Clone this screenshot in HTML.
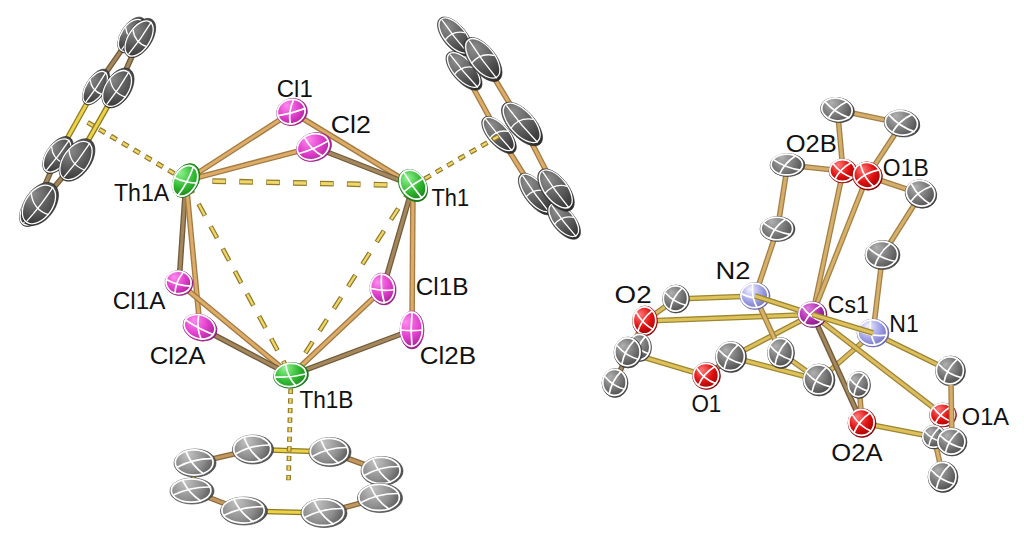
<!DOCTYPE html>
<html><head><meta charset="utf-8"><style>
html,body{margin:0;padding:0;background:#fff;}
svg{display:block;}
text{font-family:"Liberation Sans",sans-serif;font-size:24.3px;fill:#111;}
</style></head><body>
<svg width="1024" height="536" viewBox="0 0 1024 536">
<defs><radialGradient id="g_L1" gradientUnits="userSpaceOnUse" cx="1.87" cy="-5.39" fx="3.74" fy="-10.77" r="29.00"><stop offset="0" stop-color="#8e8e8e"/><stop offset="0.5" stop-color="#575757"/><stop offset="1" stop-color="#1e1e1e"/></radialGradient><radialGradient id="g_L2" gradientUnits="userSpaceOnUse" cx="2.05" cy="-5.92" fx="4.11" fy="-11.85" r="31.90"><stop offset="0" stop-color="#8e8e8e"/><stop offset="0.5" stop-color="#575757"/><stop offset="1" stop-color="#1e1e1e"/></radialGradient><radialGradient id="g_L3" gradientUnits="userSpaceOnUse" cx="1.96" cy="-5.35" fx="3.92" fy="-10.71" r="29.00"><stop offset="0" stop-color="#8e8e8e"/><stop offset="0.5" stop-color="#575757"/><stop offset="1" stop-color="#1e1e1e"/></radialGradient><radialGradient id="g_L4" gradientUnits="userSpaceOnUse" cx="2.16" cy="-5.89" fx="4.32" fy="-11.78" r="31.90"><stop offset="0" stop-color="#8e8e8e"/><stop offset="0.5" stop-color="#575757"/><stop offset="1" stop-color="#1e1e1e"/></radialGradient><radialGradient id="g_L5" gradientUnits="userSpaceOnUse" cx="1.76" cy="-5.72" fx="3.53" fy="-11.44" r="30.45"><stop offset="0" stop-color="#8e8e8e"/><stop offset="0.5" stop-color="#575757"/><stop offset="1" stop-color="#1e1e1e"/></radialGradient><radialGradient id="g_L6" gradientUnits="userSpaceOnUse" cx="2.01" cy="-6.54" fx="4.03" fy="-13.08" r="34.80"><stop offset="0" stop-color="#8e8e8e"/><stop offset="0.5" stop-color="#575757"/><stop offset="1" stop-color="#1e1e1e"/></radialGradient><radialGradient id="g_L7b" gradientUnits="userSpaceOnUse" cx="1.76" cy="-5.72" fx="3.53" fy="-11.44" r="30.45"><stop offset="0" stop-color="#8e8e8e"/><stop offset="0.5" stop-color="#575757"/><stop offset="1" stop-color="#1e1e1e"/></radialGradient><radialGradient id="g_L7" gradientUnits="userSpaceOnUse" cx="2.01" cy="-6.54" fx="4.03" fy="-13.08" r="34.80"><stop offset="0" stop-color="#8e8e8e"/><stop offset="0.5" stop-color="#575757"/><stop offset="1" stop-color="#1e1e1e"/></radialGradient><radialGradient id="g_R1" gradientUnits="userSpaceOnUse" cx="-6.69" cy="-0.25" fx="-13.39" fy="-0.50" r="34.07"><stop offset="0" stop-color="#8e8e8e"/><stop offset="0.5" stop-color="#575757"/><stop offset="1" stop-color="#1e1e1e"/></radialGradient><radialGradient id="g_R3" gradientUnits="userSpaceOnUse" cx="-6.82" cy="-0.49" fx="-13.65" fy="-0.98" r="34.80"><stop offset="0" stop-color="#8e8e8e"/><stop offset="0.5" stop-color="#575757"/><stop offset="1" stop-color="#1e1e1e"/></radialGradient><radialGradient id="g_R2" gradientUnits="userSpaceOnUse" cx="-7.41" cy="-0.02" fx="-14.82" fy="-0.03" r="37.70"><stop offset="0" stop-color="#8e8e8e"/><stop offset="0.5" stop-color="#575757"/><stop offset="1" stop-color="#1e1e1e"/></radialGradient><radialGradient id="g_R5" gradientUnits="userSpaceOnUse" cx="-6.54" cy="-0.47" fx="-13.08" fy="-0.94" r="33.35"><stop offset="0" stop-color="#8e8e8e"/><stop offset="0.5" stop-color="#575757"/><stop offset="1" stop-color="#1e1e1e"/></radialGradient><radialGradient id="g_R4" gradientUnits="userSpaceOnUse" cx="-7.68" cy="-0.55" fx="-15.35" fy="-1.11" r="39.15"><stop offset="0" stop-color="#8e8e8e"/><stop offset="0.5" stop-color="#575757"/><stop offset="1" stop-color="#1e1e1e"/></radialGradient><radialGradient id="g_R6" gradientUnits="userSpaceOnUse" cx="-7.13" cy="-0.02" fx="-14.25" fy="-0.03" r="36.25"><stop offset="0" stop-color="#8e8e8e"/><stop offset="0.5" stop-color="#575757"/><stop offset="1" stop-color="#1e1e1e"/></radialGradient><radialGradient id="g_R8" gradientUnits="userSpaceOnUse" cx="-6.27" cy="-0.23" fx="-12.53" fy="-0.47" r="31.90"><stop offset="0" stop-color="#8e8e8e"/><stop offset="0.5" stop-color="#575757"/><stop offset="1" stop-color="#1e1e1e"/></radialGradient><radialGradient id="g_R7" gradientUnits="userSpaceOnUse" cx="-7.13" cy="-0.02" fx="-14.25" fy="-0.03" r="36.25"><stop offset="0" stop-color="#8e8e8e"/><stop offset="0.5" stop-color="#575757"/><stop offset="1" stop-color="#1e1e1e"/></radialGradient><radialGradient id="g_Th1A" gradientUnits="userSpaceOnUse" cx="2.10" cy="-4.68" fx="4.19" fy="-9.37" r="26.10"><stop offset="0" stop-color="#90f490"/><stop offset="0.5" stop-color="#30b830"/><stop offset="1" stop-color="#0f640f"/></radialGradient><radialGradient id="g_Th1" gradientUnits="userSpaceOnUse" cx="-4.98" cy="0.25" fx="-9.96" fy="0.50" r="25.38"><stop offset="0" stop-color="#90f490"/><stop offset="0.5" stop-color="#30b830"/><stop offset="1" stop-color="#0f640f"/></radialGradient><radialGradient id="g_Th1B" gradientUnits="userSpaceOnUse" cx="-2.63" cy="-4.24" fx="-5.27" fy="-8.47" r="25.38"><stop offset="0" stop-color="#90f490"/><stop offset="0.5" stop-color="#30b830"/><stop offset="1" stop-color="#0f640f"/></radialGradient><radialGradient id="g_Cl1" gradientUnits="userSpaceOnUse" cx="-1.72" cy="-4.07" fx="-3.43" fy="-8.14" r="22.47"><stop offset="0" stop-color="#ff8cf0"/><stop offset="0.5" stop-color="#e03ccc"/><stop offset="1" stop-color="#861878"/></radialGradient><radialGradient id="g_Cl2" gradientUnits="userSpaceOnUse" cx="-1.57" cy="-4.88" fx="-3.15" fy="-9.77" r="26.10"><stop offset="0" stop-color="#ff8cf0"/><stop offset="0.5" stop-color="#e03ccc"/><stop offset="1" stop-color="#861878"/></radialGradient><radialGradient id="g_Cl1A" gradientUnits="userSpaceOnUse" cx="-2.96" cy="-2.68" fx="-5.92" fy="-5.35" r="20.30"><stop offset="0" stop-color="#ff8cf0"/><stop offset="0.5" stop-color="#e03ccc"/><stop offset="1" stop-color="#861878"/></radialGradient><radialGradient id="g_Cl2A" gradientUnits="userSpaceOnUse" cx="-4.22" cy="-2.65" fx="-8.45" fy="-5.31" r="25.38"><stop offset="0" stop-color="#ff8cf0"/><stop offset="0.5" stop-color="#e03ccc"/><stop offset="1" stop-color="#861878"/></radialGradient><radialGradient id="g_Cl1B" gradientUnits="userSpaceOnUse" cx="-2.13" cy="-4.03" fx="-4.26" fy="-8.06" r="23.20"><stop offset="0" stop-color="#ff8cf0"/><stop offset="0.5" stop-color="#e03ccc"/><stop offset="1" stop-color="#861878"/></radialGradient><radialGradient id="g_Cl2B" gradientUnits="userSpaceOnUse" cx="-3.32" cy="-4.28" fx="-6.65" fy="-8.55" r="27.55"><stop offset="0" stop-color="#ff8cf0"/><stop offset="0.5" stop-color="#e03ccc"/><stop offset="1" stop-color="#861878"/></radialGradient><radialGradient id="g_B1" gradientUnits="userSpaceOnUse" cx="-3.59" cy="-4.61" fx="-7.17" fy="-9.22" r="29.72"><stop offset="0" stop-color="#c4c4c4"/><stop offset="0.5" stop-color="#8e8e8e"/><stop offset="1" stop-color="#343434"/></radialGradient><radialGradient id="g_B2" gradientUnits="userSpaceOnUse" cx="-3.67" cy="-4.73" fx="-7.35" fy="-9.45" r="30.45"><stop offset="0" stop-color="#c4c4c4"/><stop offset="0.5" stop-color="#8e8e8e"/><stop offset="1" stop-color="#343434"/></radialGradient><radialGradient id="g_B3" gradientUnits="userSpaceOnUse" cx="-3.67" cy="-4.73" fx="-7.35" fy="-9.45" r="30.45"><stop offset="0" stop-color="#c4c4c4"/><stop offset="0.5" stop-color="#8e8e8e"/><stop offset="1" stop-color="#343434"/></radialGradient><radialGradient id="g_B5" gradientUnits="userSpaceOnUse" cx="-3.67" cy="-4.73" fx="-7.35" fy="-9.45" r="30.45"><stop offset="0" stop-color="#c4c4c4"/><stop offset="0.5" stop-color="#8e8e8e"/><stop offset="1" stop-color="#343434"/></radialGradient><radialGradient id="g_B4" gradientUnits="userSpaceOnUse" cx="-3.85" cy="-4.95" fx="-7.70" fy="-9.90" r="31.90"><stop offset="0" stop-color="#c4c4c4"/><stop offset="0.5" stop-color="#8e8e8e"/><stop offset="1" stop-color="#343434"/></radialGradient><radialGradient id="g_B6" gradientUnits="userSpaceOnUse" cx="-3.94" cy="-5.06" fx="-7.87" fy="-10.12" r="32.62"><stop offset="0" stop-color="#c4c4c4"/><stop offset="0.5" stop-color="#8e8e8e"/><stop offset="1" stop-color="#343434"/></radialGradient><radialGradient id="g_B7" gradientUnits="userSpaceOnUse" cx="-4.11" cy="-5.29" fx="-8.22" fy="-10.58" r="34.07"><stop offset="0" stop-color="#c4c4c4"/><stop offset="0.5" stop-color="#8e8e8e"/><stop offset="1" stop-color="#343434"/></radialGradient><radialGradient id="g_B8" gradientUnits="userSpaceOnUse" cx="-4.02" cy="-5.17" fx="-8.05" fy="-10.35" r="33.35"><stop offset="0" stop-color="#c4c4c4"/><stop offset="0.5" stop-color="#8e8e8e"/><stop offset="1" stop-color="#343434"/></radialGradient><radialGradient id="g_Ctl" gradientUnits="userSpaceOnUse" cx="-3.59" cy="-3.25" fx="-7.19" fy="-6.50" r="24.65"><stop offset="0" stop-color="#b0b0b0"/><stop offset="0.5" stop-color="#767676"/><stop offset="1" stop-color="#363636"/></radialGradient><radialGradient id="g_Ctr" gradientUnits="userSpaceOnUse" cx="-3.81" cy="-3.44" fx="-7.61" fy="-6.88" r="26.10"><stop offset="0" stop-color="#b0b0b0"/><stop offset="0.5" stop-color="#767676"/><stop offset="1" stop-color="#363636"/></radialGradient><radialGradient id="g_Co2b" gradientUnits="userSpaceOnUse" cx="-3.06" cy="-3.94" fx="-6.12" fy="-7.88" r="25.38"><stop offset="0" stop-color="#b0b0b0"/><stop offset="0.5" stop-color="#767676"/><stop offset="1" stop-color="#363636"/></radialGradient><radialGradient id="g_O2B" gradientUnits="userSpaceOnUse" cx="-2.45" cy="-3.15" fx="-4.90" fy="-6.30" r="20.30"><stop offset="0" stop-color="#ff7a7a"/><stop offset="0.5" stop-color="#e01010"/><stop offset="1" stop-color="#7a0000"/></radialGradient><radialGradient id="g_O1B" gradientUnits="userSpaceOnUse" cx="-3.62" cy="-2.27" fx="-7.24" fy="-4.55" r="21.75"><stop offset="0" stop-color="#ff7a7a"/><stop offset="0.5" stop-color="#e01010"/><stop offset="1" stop-color="#7a0000"/></radialGradient><radialGradient id="g_Co1b" gradientUnits="userSpaceOnUse" cx="-3.86" cy="-2.43" fx="-7.72" fy="-4.85" r="23.20"><stop offset="0" stop-color="#b0b0b0"/><stop offset="0.5" stop-color="#767676"/><stop offset="1" stop-color="#363636"/></radialGradient><radialGradient id="g_Cn2" gradientUnits="userSpaceOnUse" cx="-3.06" cy="-3.94" fx="-6.12" fy="-7.88" r="25.38"><stop offset="0" stop-color="#b0b0b0"/><stop offset="0.5" stop-color="#767676"/><stop offset="1" stop-color="#363636"/></radialGradient><radialGradient id="g_Cn1" gradientUnits="userSpaceOnUse" cx="-3.06" cy="-3.94" fx="-6.12" fy="-7.88" r="25.38"><stop offset="0" stop-color="#b0b0b0"/><stop offset="0.5" stop-color="#767676"/><stop offset="1" stop-color="#363636"/></radialGradient><radialGradient id="g_N2" gradientUnits="userSpaceOnUse" cx="-2.62" cy="-3.38" fx="-5.25" fy="-6.75" r="21.75"><stop offset="0" stop-color="#f2f2ff"/><stop offset="0.5" stop-color="#a0a0e6"/><stop offset="1" stop-color="#5858a8"/></radialGradient><radialGradient id="g_Cs1" gradientUnits="userSpaceOnUse" cx="-2.54" cy="-3.26" fx="-5.07" fy="-6.53" r="21.02"><stop offset="0" stop-color="#e080e0"/><stop offset="0.5" stop-color="#b02cb0"/><stop offset="1" stop-color="#5a105a"/></radialGradient><radialGradient id="g_N1" gradientUnits="userSpaceOnUse" cx="-2.80" cy="-3.60" fx="-5.60" fy="-7.20" r="23.20"><stop offset="0" stop-color="#f2f2ff"/><stop offset="0.5" stop-color="#a0a0e6"/><stop offset="1" stop-color="#5858a8"/></radialGradient><radialGradient id="g_Co2" gradientUnits="userSpaceOnUse" cx="-2.45" cy="-3.15" fx="-4.90" fy="-6.30" r="20.30"><stop offset="0" stop-color="#b0b0b0"/><stop offset="0.5" stop-color="#767676"/><stop offset="1" stop-color="#363636"/></radialGradient><radialGradient id="g_O2" gradientUnits="userSpaceOnUse" cx="-2.62" cy="-3.38" fx="-5.25" fy="-6.75" r="21.75"><stop offset="0" stop-color="#ff7a7a"/><stop offset="0.5" stop-color="#e01010"/><stop offset="1" stop-color="#7a0000"/></radialGradient><radialGradient id="g_Cbk" gradientUnits="userSpaceOnUse" cx="-2.45" cy="-3.15" fx="-4.90" fy="-6.30" r="20.30"><stop offset="0" stop-color="#b0b0b0"/><stop offset="0.5" stop-color="#767676"/><stop offset="1" stop-color="#363636"/></radialGradient><radialGradient id="g_Cfr" gradientUnits="userSpaceOnUse" cx="-2.71" cy="-3.49" fx="-5.42" fy="-6.98" r="22.47"><stop offset="0" stop-color="#b0b0b0"/><stop offset="0.5" stop-color="#767676"/><stop offset="1" stop-color="#363636"/></radialGradient><radialGradient id="g_Cbl" gradientUnits="userSpaceOnUse" cx="-2.54" cy="-3.26" fx="-5.07" fy="-6.53" r="21.02"><stop offset="0" stop-color="#b0b0b0"/><stop offset="0.5" stop-color="#767676"/><stop offset="1" stop-color="#363636"/></radialGradient><radialGradient id="g_O1" gradientUnits="userSpaceOnUse" cx="-2.45" cy="-3.15" fx="-4.90" fy="-6.30" r="20.30"><stop offset="0" stop-color="#ff7a7a"/><stop offset="0.5" stop-color="#e01010"/><stop offset="1" stop-color="#7a0000"/></radialGradient><radialGradient id="g_Cc" gradientUnits="userSpaceOnUse" cx="-2.71" cy="-3.49" fx="-5.42" fy="-6.98" r="22.47"><stop offset="0" stop-color="#b0b0b0"/><stop offset="0.5" stop-color="#767676"/><stop offset="1" stop-color="#363636"/></radialGradient><radialGradient id="g_Crc" gradientUnits="userSpaceOnUse" cx="-2.71" cy="-3.49" fx="-5.42" fy="-6.98" r="22.47"><stop offset="0" stop-color="#b0b0b0"/><stop offset="0.5" stop-color="#767676"/><stop offset="1" stop-color="#363636"/></radialGradient><radialGradient id="g_C819" gradientUnits="userSpaceOnUse" cx="-2.80" cy="-3.60" fx="-5.60" fy="-7.20" r="23.20"><stop offset="0" stop-color="#b0b0b0"/><stop offset="0.5" stop-color="#767676"/><stop offset="1" stop-color="#363636"/></radialGradient><radialGradient id="g_C857" gradientUnits="userSpaceOnUse" cx="-2.36" cy="-3.04" fx="-4.72" fy="-6.08" r="19.57"><stop offset="0" stop-color="#b0b0b0"/><stop offset="0.5" stop-color="#767676"/><stop offset="1" stop-color="#363636"/></radialGradient><radialGradient id="g_C951" gradientUnits="userSpaceOnUse" cx="-2.62" cy="-3.38" fx="-5.25" fy="-6.75" r="21.75"><stop offset="0" stop-color="#b0b0b0"/><stop offset="0.5" stop-color="#767676"/><stop offset="1" stop-color="#363636"/></radialGradient><radialGradient id="g_O2A" gradientUnits="userSpaceOnUse" cx="-2.54" cy="-3.26" fx="-5.07" fy="-6.53" r="21.02"><stop offset="0" stop-color="#ff7a7a"/><stop offset="0.5" stop-color="#e01010"/><stop offset="1" stop-color="#7a0000"/></radialGradient><radialGradient id="g_O1A" gradientUnits="userSpaceOnUse" cx="-2.36" cy="-3.04" fx="-4.72" fy="-6.08" r="19.57"><stop offset="0" stop-color="#ff7a7a"/><stop offset="0.5" stop-color="#e01010"/><stop offset="1" stop-color="#7a0000"/></radialGradient><radialGradient id="g_Cbk2" gradientUnits="userSpaceOnUse" cx="-2.10" cy="-2.70" fx="-4.20" fy="-5.40" r="17.40"><stop offset="0" stop-color="#b0b0b0"/><stop offset="0.5" stop-color="#767676"/><stop offset="1" stop-color="#363636"/></radialGradient><radialGradient id="g_Cfr2" gradientUnits="userSpaceOnUse" cx="-2.62" cy="-3.38" fx="-5.25" fy="-6.75" r="21.75"><stop offset="0" stop-color="#b0b0b0"/><stop offset="0.5" stop-color="#767676"/><stop offset="1" stop-color="#363636"/></radialGradient><radialGradient id="g_Cbt" gradientUnits="userSpaceOnUse" cx="-2.71" cy="-3.49" fx="-5.42" fy="-6.98" r="22.47"><stop offset="0" stop-color="#b0b0b0"/><stop offset="0.5" stop-color="#767676"/><stop offset="1" stop-color="#363636"/></radialGradient></defs>
<rect width="1024" height="536" fill="#fff"/>
<line x1="186" y1="180.5" x2="413" y2="185.5" stroke="#94792a" stroke-width="5.6" stroke-dasharray="13.7 13.20" stroke-dashoffset="0.5"/><line x1="186" y1="180.5" x2="413" y2="185.5" stroke="#eed86a" stroke-width="3.10" stroke-dasharray="12.30 14.60" stroke-dashoffset="-0.20"/><line x1="186" y1="180.5" x2="291" y2="375.4" stroke="#94792a" stroke-width="4.8" stroke-dasharray="13.5 12.00" stroke-dashoffset="24.5"/><line x1="186" y1="180.5" x2="291" y2="375.4" stroke="#eed86a" stroke-width="2.30" stroke-dasharray="12.10 13.40" stroke-dashoffset="23.80"/><line x1="413" y1="185.5" x2="291" y2="375.4" stroke="#94792a" stroke-width="4.8" stroke-dasharray="13.5 12.90" stroke-dashoffset="25.5"/><line x1="413" y1="185.5" x2="291" y2="375.4" stroke="#eed86a" stroke-width="2.30" stroke-dasharray="12.10 14.30" stroke-dashoffset="24.80"/><line x1="132" y1="35" x2="96" y2="87" stroke="#735b3a" stroke-width="5.6" stroke-linecap="butt"/><line x1="132" y1="35" x2="96" y2="87" stroke="#a3885e" stroke-width="3.00" stroke-linecap="butt"/><line x1="140" y1="38" x2="118" y2="88" stroke="#735b3a" stroke-width="5.6" stroke-linecap="butt"/><line x1="140" y1="38" x2="118" y2="88" stroke="#a3885e" stroke-width="3.00" stroke-linecap="butt"/><line x1="96" y1="87" x2="58" y2="155" stroke="#8c7a20" stroke-width="5.6" stroke-linecap="butt"/><line x1="96" y1="87" x2="58" y2="155" stroke="#ecd24a" stroke-width="3.00" stroke-linecap="butt"/><line x1="118" y1="88" x2="77" y2="160" stroke="#8c7a20" stroke-width="5.6" stroke-linecap="butt"/><line x1="118" y1="88" x2="77" y2="160" stroke="#ecd24a" stroke-width="3.00" stroke-linecap="butt"/><line x1="58" y1="155" x2="35" y2="208" stroke="#735b3a" stroke-width="5.6" stroke-linecap="butt"/><line x1="58" y1="155" x2="35" y2="208" stroke="#a3885e" stroke-width="3.00" stroke-linecap="butt"/><line x1="77" y1="160" x2="40" y2="204" stroke="#735b3a" stroke-width="5.6" stroke-linecap="butt"/><line x1="77" y1="160" x2="40" y2="204" stroke="#a3885e" stroke-width="3.00" stroke-linecap="butt"/><line x1="464" y1="71" x2="499" y2="135" stroke="#a27a42" stroke-width="5.6" stroke-linecap="butt"/><line x1="464" y1="71" x2="499" y2="135" stroke="#dcac68" stroke-width="3.00" stroke-linecap="butt"/><line x1="483" y1="59.5" x2="522" y2="124" stroke="#a27a42" stroke-width="5.6" stroke-linecap="butt"/><line x1="483" y1="59.5" x2="522" y2="124" stroke="#dcac68" stroke-width="3.00" stroke-linecap="butt"/><line x1="499" y1="135" x2="536" y2="194" stroke="#a27a42" stroke-width="5.6" stroke-linecap="butt"/><line x1="499" y1="135" x2="536" y2="194" stroke="#dcac68" stroke-width="3.00" stroke-linecap="butt"/><line x1="522" y1="124" x2="556" y2="190" stroke="#a27a42" stroke-width="5.6" stroke-linecap="butt"/><line x1="522" y1="124" x2="556" y2="190" stroke="#dcac68" stroke-width="3.00" stroke-linecap="butt"/><line x1="186" y1="180.5" x2="292" y2="112" stroke="#a27a42" stroke-width="5.6" stroke-linecap="butt"/><line x1="186" y1="180.5" x2="292" y2="112" stroke="#dcac68" stroke-width="3.00" stroke-linecap="butt"/><line x1="186" y1="180.5" x2="314" y2="147" stroke="#a27a42" stroke-width="5.6" stroke-linecap="butt"/><line x1="186" y1="180.5" x2="314" y2="147" stroke="#dcac68" stroke-width="3.00" stroke-linecap="butt"/><line x1="292" y1="112" x2="413" y2="185.5" stroke="#a27a42" stroke-width="5.6" stroke-linecap="butt"/><line x1="292" y1="112" x2="413" y2="185.5" stroke="#dcac68" stroke-width="3.00" stroke-linecap="butt"/><line x1="314" y1="147" x2="413" y2="185.5" stroke="#735b3a" stroke-width="5.6" stroke-linecap="butt"/><line x1="314" y1="147" x2="413" y2="185.5" stroke="#a3885e" stroke-width="3.00" stroke-linecap="butt"/><line x1="186" y1="180.5" x2="179" y2="283" stroke="#735b3a" stroke-width="5.6" stroke-linecap="butt"/><line x1="186" y1="180.5" x2="179" y2="283" stroke="#a3885e" stroke-width="3.00" stroke-linecap="butt"/><line x1="186" y1="180.5" x2="200" y2="327.5" stroke="#a27a42" stroke-width="5.6" stroke-linecap="butt"/><line x1="186" y1="180.5" x2="200" y2="327.5" stroke="#dcac68" stroke-width="3.00" stroke-linecap="butt"/><line x1="179" y1="283" x2="291" y2="375.4" stroke="#a27a42" stroke-width="5.6" stroke-linecap="butt"/><line x1="179" y1="283" x2="291" y2="375.4" stroke="#dcac68" stroke-width="3.00" stroke-linecap="butt"/><line x1="200" y1="327.5" x2="291" y2="375.4" stroke="#735b3a" stroke-width="5.6" stroke-linecap="butt"/><line x1="200" y1="327.5" x2="291" y2="375.4" stroke="#a3885e" stroke-width="3.00" stroke-linecap="butt"/><line x1="413" y1="185.5" x2="383" y2="289" stroke="#735b3a" stroke-width="5.6" stroke-linecap="butt"/><line x1="413" y1="185.5" x2="383" y2="289" stroke="#a3885e" stroke-width="3.00" stroke-linecap="butt"/><line x1="413" y1="185.5" x2="412" y2="330" stroke="#a27a42" stroke-width="5.6" stroke-linecap="butt"/><line x1="413" y1="185.5" x2="412" y2="330" stroke="#dcac68" stroke-width="3.00" stroke-linecap="butt"/><line x1="383" y1="289" x2="291" y2="375.4" stroke="#a27a42" stroke-width="5.6" stroke-linecap="butt"/><line x1="383" y1="289" x2="291" y2="375.4" stroke="#dcac68" stroke-width="3.00" stroke-linecap="butt"/><line x1="412" y1="330" x2="291" y2="375.4" stroke="#735b3a" stroke-width="5.6" stroke-linecap="butt"/><line x1="412" y1="330" x2="291" y2="375.4" stroke="#a3885e" stroke-width="3.00" stroke-linecap="butt"/><line x1="253" y1="449.5" x2="330" y2="452" stroke="#8c7a20" stroke-width="5.6" stroke-linecap="butt"/><line x1="253" y1="449.5" x2="330" y2="452" stroke="#ecd24a" stroke-width="3.00" stroke-linecap="butt"/><line x1="244" y1="511" x2="324" y2="513" stroke="#8c7a20" stroke-width="5.6" stroke-linecap="butt"/><line x1="244" y1="511" x2="324" y2="513" stroke="#ecd24a" stroke-width="3.00" stroke-linecap="butt"/><line x1="253" y1="449.5" x2="195" y2="463" stroke="#8a6a3a" stroke-width="5.6" stroke-linecap="butt"/><line x1="253" y1="449.5" x2="195" y2="463" stroke="#c09860" stroke-width="3.00" stroke-linecap="butt"/><line x1="330" y1="452" x2="382" y2="471" stroke="#8a6a3a" stroke-width="5.6" stroke-linecap="butt"/><line x1="330" y1="452" x2="382" y2="471" stroke="#c09860" stroke-width="3.00" stroke-linecap="butt"/><line x1="192" y1="491" x2="244" y2="511" stroke="#8a6a3a" stroke-width="5.6" stroke-linecap="butt"/><line x1="192" y1="491" x2="244" y2="511" stroke="#c09860" stroke-width="3.00" stroke-linecap="butt"/><line x1="380" y1="498" x2="324" y2="513" stroke="#8a6a3a" stroke-width="5.6" stroke-linecap="butt"/><line x1="380" y1="498" x2="324" y2="513" stroke="#c09860" stroke-width="3.00" stroke-linecap="butt"/><line x1="195" y1="463" x2="192" y2="491" stroke="#8c7a20" stroke-width="5.6" stroke-linecap="butt"/><line x1="195" y1="463" x2="192" y2="491" stroke="#ecd24a" stroke-width="3.00" stroke-linecap="butt"/><line x1="382" y1="471" x2="380" y2="498" stroke="#8c7a20" stroke-width="5.6" stroke-linecap="butt"/><line x1="382" y1="471" x2="380" y2="498" stroke="#ecd24a" stroke-width="3.00" stroke-linecap="butt"/><line x1="837.5" y1="110" x2="902" y2="123.5" stroke="#a48048" stroke-width="5.6" stroke-linecap="butt"/><line x1="837.5" y1="110" x2="902" y2="123.5" stroke="#d6ae6c" stroke-width="3.00" stroke-linecap="butt"/><line x1="837.5" y1="110" x2="843" y2="171" stroke="#a48048" stroke-width="5.6" stroke-linecap="butt"/><line x1="837.5" y1="110" x2="843" y2="171" stroke="#d6ae6c" stroke-width="3.00" stroke-linecap="butt"/><line x1="902" y1="123.5" x2="867.5" y2="176" stroke="#a48048" stroke-width="5.6" stroke-linecap="butt"/><line x1="902" y1="123.5" x2="867.5" y2="176" stroke="#d6ae6c" stroke-width="3.00" stroke-linecap="butt"/><line x1="787.5" y1="165" x2="843" y2="171" stroke="#a48048" stroke-width="5.6" stroke-linecap="butt"/><line x1="787.5" y1="165" x2="843" y2="171" stroke="#d6ae6c" stroke-width="3.00" stroke-linecap="butt"/><line x1="867.5" y1="176" x2="921" y2="194" stroke="#a48048" stroke-width="5.6" stroke-linecap="butt"/><line x1="867.5" y1="176" x2="921" y2="194" stroke="#d6ae6c" stroke-width="3.00" stroke-linecap="butt"/><line x1="843" y1="171" x2="812.5" y2="314.5" stroke="#a48047" stroke-width="5.6" stroke-linecap="butt"/><line x1="843" y1="171" x2="812.5" y2="314.5" stroke="#d6af6b" stroke-width="3.00" stroke-linecap="butt"/><line x1="867.5" y1="176" x2="812.5" y2="314.5" stroke="#a38145" stroke-width="5.6" stroke-linecap="butt"/><line x1="867.5" y1="176" x2="812.5" y2="314.5" stroke="#d7b16a" stroke-width="3.00" stroke-linecap="butt"/><line x1="787.5" y1="165" x2="777.5" y2="229" stroke="#a48048" stroke-width="5.6" stroke-linecap="butt"/><line x1="787.5" y1="165" x2="777.5" y2="229" stroke="#d6ae6c" stroke-width="3.00" stroke-linecap="butt"/><line x1="777.5" y1="229" x2="755" y2="296" stroke="#a38145" stroke-width="5.6" stroke-linecap="butt"/><line x1="777.5" y1="229" x2="755" y2="296" stroke="#d7b169" stroke-width="3.00" stroke-linecap="butt"/><line x1="921" y1="194" x2="882.5" y2="255" stroke="#a38145" stroke-width="5.6" stroke-linecap="butt"/><line x1="921" y1="194" x2="882.5" y2="255" stroke="#d7b06a" stroke-width="3.00" stroke-linecap="butt"/><line x1="882.5" y1="255" x2="873" y2="333" stroke="#a48047" stroke-width="5.6" stroke-linecap="butt"/><line x1="882.5" y1="255" x2="873" y2="333" stroke="#d6af6b" stroke-width="3.00" stroke-linecap="butt"/><line x1="755" y1="296" x2="676" y2="299" stroke="#9c8630" stroke-width="5.6" stroke-linecap="butt"/><line x1="755" y1="296" x2="676" y2="299" stroke="#dec25a" stroke-width="3.00" stroke-linecap="butt"/><line x1="645" y1="321" x2="812.5" y2="314.5" stroke="#9c8630" stroke-width="5.6" stroke-linecap="butt"/><line x1="645" y1="321" x2="812.5" y2="314.5" stroke="#dec25a" stroke-width="3.00" stroke-linecap="butt"/><line x1="645" y1="321" x2="676" y2="299" stroke="#9e8436" stroke-width="5.6" stroke-linecap="butt"/><line x1="645" y1="321" x2="676" y2="299" stroke="#dcbd5f" stroke-width="3.00" stroke-linecap="butt"/><line x1="645" y1="321" x2="628" y2="352.5" stroke="#a18240" stroke-width="5.6" stroke-linecap="butt"/><line x1="645" y1="321" x2="628" y2="352.5" stroke="#d9b566" stroke-width="3.00" stroke-linecap="butt"/><line x1="628" y1="352.5" x2="615" y2="383" stroke="#735b3a" stroke-width="5.6" stroke-linecap="butt"/><line x1="628" y1="352.5" x2="615" y2="383" stroke="#a3885e" stroke-width="3.00" stroke-linecap="butt"/><line x1="628" y1="352.5" x2="706.5" y2="376" stroke="#9c8631" stroke-width="5.6" stroke-linecap="butt"/><line x1="628" y1="352.5" x2="706.5" y2="376" stroke="#dec15b" stroke-width="3.00" stroke-linecap="butt"/><line x1="706.5" y1="376" x2="731" y2="357" stroke="#735b3a" stroke-width="5.6" stroke-linecap="butt"/><line x1="706.5" y1="376" x2="731" y2="357" stroke="#a3885e" stroke-width="3.00" stroke-linecap="butt"/><line x1="731" y1="357" x2="812.5" y2="314.5" stroke="#9d8534" stroke-width="5.6" stroke-linecap="butt"/><line x1="731" y1="357" x2="812.5" y2="314.5" stroke="#ddbf5d" stroke-width="3.00" stroke-linecap="butt"/><line x1="731" y1="357" x2="819" y2="380" stroke="#9c8631" stroke-width="5.6" stroke-linecap="butt"/><line x1="731" y1="357" x2="819" y2="380" stroke="#dec15b" stroke-width="3.00" stroke-linecap="butt"/><line x1="755" y1="296" x2="781" y2="353" stroke="#a28242" stroke-width="5.6" stroke-linecap="butt"/><line x1="755" y1="296" x2="781" y2="353" stroke="#d8b367" stroke-width="3.00" stroke-linecap="butt"/><line x1="781" y1="353" x2="819" y2="380" stroke="#9e8436" stroke-width="5.6" stroke-linecap="butt"/><line x1="781" y1="353" x2="819" y2="380" stroke="#dcbd5f" stroke-width="3.00" stroke-linecap="butt"/><line x1="873" y1="333" x2="819" y2="380" stroke="#9f8438" stroke-width="5.6" stroke-linecap="butt"/><line x1="873" y1="333" x2="819" y2="380" stroke="#dbbb60" stroke-width="3.00" stroke-linecap="butt"/><line x1="812.5" y1="314.5" x2="862" y2="423" stroke="#735b3a" stroke-width="5.6" stroke-linecap="butt"/><line x1="812.5" y1="314.5" x2="862" y2="423" stroke="#a3885e" stroke-width="3.00" stroke-linecap="butt"/><line x1="812.5" y1="314.5" x2="943" y2="415" stroke="#9e8437" stroke-width="5.6" stroke-linecap="butt"/><line x1="812.5" y1="314.5" x2="943" y2="415" stroke="#dcbc5f" stroke-width="3.00" stroke-linecap="butt"/><line x1="873" y1="333" x2="950.5" y2="371" stroke="#9d8534" stroke-width="5.6" stroke-linecap="butt"/><line x1="873" y1="333" x2="950.5" y2="371" stroke="#ddbf5d" stroke-width="3.00" stroke-linecap="butt"/><line x1="859" y1="385" x2="862" y2="423" stroke="#a48047" stroke-width="5.6" stroke-linecap="butt"/><line x1="859" y1="385" x2="862" y2="423" stroke="#d6ae6c" stroke-width="3.00" stroke-linecap="butt"/><line x1="862" y1="423" x2="934" y2="437" stroke="#9c8631" stroke-width="5.6" stroke-linecap="butt"/><line x1="862" y1="423" x2="934" y2="437" stroke="#dec15a" stroke-width="3.00" stroke-linecap="butt"/><line x1="943" y1="477" x2="934" y2="437" stroke="#a38146" stroke-width="5.6" stroke-linecap="butt"/><line x1="943" y1="477" x2="934" y2="437" stroke="#d7b06a" stroke-width="3.00" stroke-linecap="butt"/><g transform="translate(132,35) rotate(-57)"><ellipse rx="20" ry="11" fill="url(#g_L1)" stroke="#1e1e1e" stroke-width="0.6"/><ellipse cx="-0.80" cy="-0.44" rx="18.00" ry="9.90" fill="none" stroke="#fff" stroke-width="1.3"/><path d="M17.96,0.69 Q-0.05,1.32 -17.96,-0.69" fill="none" stroke="#fff" stroke-width="1.3"/><path d="M-3.13,9.75 Q-6.28,-2.01 3.13,-9.75" fill="none" stroke="#fff" stroke-width="1.3"/></g><g transform="translate(140,38) rotate(-57)"><ellipse rx="22" ry="12" fill="url(#g_L2)" stroke="#1e1e1e" stroke-width="0.6"/><ellipse cx="-0.88" cy="-0.48" rx="19.80" ry="10.80" fill="none" stroke="#fff" stroke-width="1.3"/><path d="M19.75,0.75 Q-0.05,1.44 -19.75,-0.75" fill="none" stroke="#fff" stroke-width="1.3"/><path d="M-3.44,10.64 Q-6.85,-2.21 3.44,-10.64" fill="none" stroke="#fff" stroke-width="1.3"/></g><g transform="translate(96,87) rotate(-58)"><ellipse rx="20" ry="10" fill="url(#g_L3)" stroke="#1e1e1e" stroke-width="0.6"/><ellipse cx="-0.80" cy="-0.40" rx="18.00" ry="9.00" fill="none" stroke="#fff" stroke-width="1.3"/><path d="M17.96,0.63 Q-0.04,1.20 -17.96,-0.63" fill="none" stroke="#fff" stroke-width="1.3"/><path d="M-3.13,8.86 Q-5.66,-2.00 3.13,-8.86" fill="none" stroke="#fff" stroke-width="1.3"/></g><g transform="translate(118,88) rotate(-58)"><ellipse rx="22" ry="13" fill="url(#g_L4)" stroke="#1e1e1e" stroke-width="0.6"/><ellipse cx="-0.88" cy="-0.52" rx="19.80" ry="11.70" fill="none" stroke="#fff" stroke-width="1.3"/><path d="M19.75,0.82 Q-0.06,1.56 -19.75,-0.82" fill="none" stroke="#fff" stroke-width="1.3"/><path d="M-3.44,11.52 Q-7.47,-2.23 3.44,-11.52" fill="none" stroke="#fff" stroke-width="1.3"/></g><g transform="translate(58,155) rotate(-55)"><ellipse rx="21" ry="11.5" fill="url(#g_L5)" stroke="#1e1e1e" stroke-width="0.6"/><ellipse cx="-0.84" cy="-0.46" rx="18.90" ry="10.35" fill="none" stroke="#fff" stroke-width="1.3"/><path d="M18.85,0.72 Q-0.05,1.38 -18.85,-0.72" fill="none" stroke="#fff" stroke-width="1.3"/><path d="M-3.28,10.19 Q-6.57,-2.11 3.28,-10.19" fill="none" stroke="#fff" stroke-width="1.3"/></g><g transform="translate(77,160) rotate(-55)"><ellipse rx="24" ry="14" fill="url(#g_L6)" stroke="#1e1e1e" stroke-width="0.6"/><ellipse cx="-0.96" cy="-0.56" rx="21.60" ry="12.60" fill="none" stroke="#fff" stroke-width="1.3"/><path d="M21.55,0.88 Q-0.07,1.68 -21.55,-0.88" fill="none" stroke="#fff" stroke-width="1.3"/><path d="M-3.75,12.41 Q-8.04,-2.43 3.75,-12.41" fill="none" stroke="#fff" stroke-width="1.3"/></g><g transform="translate(35,208) rotate(-55)"><ellipse rx="21" ry="12" fill="url(#g_L7b)" stroke="#1e1e1e" stroke-width="0.6"/><ellipse cx="-0.84" cy="-0.48" rx="18.90" ry="10.80" fill="none" stroke="#fff" stroke-width="1.3"/><path d="M18.85,0.75 Q-0.06,1.44 -18.85,-0.75" fill="none" stroke="#fff" stroke-width="1.3"/><path d="M-3.28,10.64 Q-6.88,-2.12 3.28,-10.64" fill="none" stroke="#fff" stroke-width="1.3"/></g><g transform="translate(40,204) rotate(-55)"><ellipse rx="24" ry="15" fill="url(#g_L7)" stroke="#1e1e1e" stroke-width="0.6"/><ellipse cx="-0.96" cy="-0.60" rx="21.60" ry="13.50" fill="none" stroke="#fff" stroke-width="1.3"/><path d="M21.55,0.94 Q-0.08,1.80 -21.55,-0.94" fill="none" stroke="#fff" stroke-width="1.3"/><path d="M-3.75,13.29 Q-8.66,-2.44 3.75,-13.29" fill="none" stroke="#fff" stroke-width="1.3"/></g><g transform="translate(455,36.5) rotate(50)"><ellipse rx="23.5" ry="11.5" fill="url(#g_R1)" stroke="#1e1e1e" stroke-width="0.6"/><ellipse cx="-0.94" cy="-0.46" rx="21.15" ry="10.35" fill="none" stroke="#fff" stroke-width="1.3"/><path d="M21.10,0.72 Q-0.05,1.38 -21.10,-0.72" fill="none" stroke="#fff" stroke-width="1.3"/><path d="M-3.67,10.19 Q-6.49,-2.34 3.67,-10.19" fill="none" stroke="#fff" stroke-width="1.3"/></g><g transform="translate(464,71) rotate(48)"><ellipse rx="24" ry="11" fill="url(#g_R3)" stroke="#1e1e1e" stroke-width="0.6"/><ellipse cx="-0.96" cy="-0.44" rx="21.60" ry="9.90" fill="none" stroke="#fff" stroke-width="1.3"/><path d="M21.55,0.69 Q-0.04,1.32 -21.55,-0.69" fill="none" stroke="#fff" stroke-width="1.3"/><path d="M-3.75,9.75 Q-6.16,-2.37 3.75,-9.75" fill="none" stroke="#fff" stroke-width="1.3"/></g><g transform="translate(483,59.5) rotate(52)"><ellipse rx="26" ry="13" fill="url(#g_R2)" stroke="#1e1e1e" stroke-width="0.6"/><ellipse cx="-1.04" cy="-0.52" rx="23.40" ry="11.70" fill="none" stroke="#fff" stroke-width="1.3"/><path d="M23.34,0.82 Q-0.05,1.56 -23.34,-0.82" fill="none" stroke="#fff" stroke-width="1.3"/><path d="M-4.06,11.52 Q-7.36,-2.59 4.06,-11.52" fill="none" stroke="#fff" stroke-width="1.3"/></g><g transform="translate(499,135) rotate(48)"><ellipse rx="23" ry="10.5" fill="url(#g_R5)" stroke="#1e1e1e" stroke-width="0.6"/><ellipse cx="-0.92" cy="-0.42" rx="20.70" ry="9.45" fill="none" stroke="#fff" stroke-width="1.3"/><path d="M20.65,0.66 Q-0.04,1.26 -20.65,-0.66" fill="none" stroke="#fff" stroke-width="1.3"/><path d="M-3.59,9.31 Q-5.88,-2.27 3.59,-9.31" fill="none" stroke="#fff" stroke-width="1.3"/></g><g transform="translate(522,124) rotate(48)"><ellipse rx="27" ry="13" fill="url(#g_R4)" stroke="#1e1e1e" stroke-width="0.6"/><ellipse cx="-1.08" cy="-0.52" rx="24.30" ry="11.70" fill="none" stroke="#fff" stroke-width="1.3"/><path d="M24.24,0.82 Q-0.05,1.56 -24.24,-0.82" fill="none" stroke="#fff" stroke-width="1.3"/><path d="M-4.22,11.52 Q-7.32,-2.68 4.22,-11.52" fill="none" stroke="#fff" stroke-width="1.3"/></g><g transform="translate(536,194) rotate(52)"><ellipse rx="25" ry="11" fill="url(#g_R6)" stroke="#1e1e1e" stroke-width="0.6"/><ellipse cx="-1.00" cy="-0.44" rx="22.50" ry="9.90" fill="none" stroke="#fff" stroke-width="1.3"/><path d="M22.45,0.69 Q-0.04,1.32 -22.45,-0.69" fill="none" stroke="#fff" stroke-width="1.3"/><path d="M-3.91,9.75 Q-6.13,-2.46 3.91,-9.75" fill="none" stroke="#fff" stroke-width="1.3"/></g><g transform="translate(564,221) rotate(50)"><ellipse rx="22" ry="11" fill="url(#g_R8)" stroke="#1e1e1e" stroke-width="0.6"/><ellipse cx="-0.88" cy="-0.44" rx="19.80" ry="9.90" fill="none" stroke="#fff" stroke-width="1.3"/><path d="M19.75,0.69 Q-0.05,1.32 -19.75,-0.69" fill="none" stroke="#fff" stroke-width="1.3"/><path d="M-3.44,9.75 Q-6.22,-2.20 3.44,-9.75" fill="none" stroke="#fff" stroke-width="1.3"/></g><g transform="translate(556,190) rotate(52)"><ellipse rx="25" ry="12.5" fill="url(#g_R7)" stroke="#1e1e1e" stroke-width="0.6"/><ellipse cx="-1.00" cy="-0.50" rx="22.50" ry="11.25" fill="none" stroke="#fff" stroke-width="1.3"/><path d="M22.45,0.78 Q-0.05,1.50 -22.45,-0.78" fill="none" stroke="#fff" stroke-width="1.3"/><path d="M-3.91,11.08 Q-7.07,-2.49 3.91,-11.08" fill="none" stroke="#fff" stroke-width="1.3"/></g><line x1="186" y1="180.5" x2="87" y2="122" stroke="#94792a" stroke-width="5.0" stroke-dasharray="7 6.40" stroke-dashoffset="13.33"/><line x1="186" y1="180.5" x2="87" y2="122" stroke="#eed86a" stroke-width="2.50" stroke-dasharray="5.60 7.80" stroke-dashoffset="12.63"/><line x1="413" y1="185.5" x2="504" y2="133" stroke="#94792a" stroke-width="4.8" stroke-dasharray="7 6.10" stroke-dashoffset="12.81"/><line x1="413" y1="185.5" x2="504" y2="133" stroke="#eed86a" stroke-width="2.30" stroke-dasharray="5.60 7.50" stroke-dashoffset="12.11"/><line x1="291" y1="375.4" x2="288.5" y2="481" stroke="#94792a" stroke-width="4.8" stroke-dasharray="5.2 4.38" stroke-dashoffset="5.76"/><line x1="291" y1="375.4" x2="288.5" y2="481" stroke="#eed86a" stroke-width="2.30" stroke-dasharray="3.80 5.78" stroke-dashoffset="5.06"/><g transform="translate(186,180.5) rotate(-62)"><ellipse rx="18" ry="12.5" fill="url(#g_Th1A)" stroke="#0f640f" stroke-width="0.6"/><ellipse cx="-0.72" cy="-0.50" rx="16.20" ry="11.25" fill="none" stroke="#fff" stroke-width="1.7"/><path d="M16.20,0.00 Q-0.00,2.50 -16.20,-0.00" fill="none" stroke="#fff" stroke-width="1.7"/><path d="M2.81,11.08 Q-2.42,0.62 -2.81,-11.08" fill="none" stroke="#fff" stroke-width="1.7"/></g><g transform="translate(413,185.5) rotate(55)"><ellipse rx="17.5" ry="13" fill="url(#g_Th1)" stroke="#0f640f" stroke-width="0.6"/><ellipse cx="-0.70" cy="-0.52" rx="15.75" ry="11.70" fill="none" stroke="#fff" stroke-width="1.7"/><path d="M15.75,0.00 Q-0.00,1.30 -15.75,-0.00" fill="none" stroke="#fff" stroke-width="1.7"/><path d="M0.00,11.70 Q-1.30,0.00 -0.00,-11.70" fill="none" stroke="#fff" stroke-width="1.7"/></g><g transform="translate(291,375.4) rotate(-6)"><ellipse rx="17.5" ry="12.8" fill="url(#g_Th1B)" stroke="#0f640f" stroke-width="0.6"/><ellipse cx="-0.70" cy="-0.51" rx="15.75" ry="11.52" fill="none" stroke="#fff" stroke-width="1.7"/><path d="M15.75,0.00 Q-0.00,2.56 -15.75,-0.00" fill="none" stroke="#fff" stroke-width="1.7"/><path d="M4.08,11.13 Q-3.61,1.32 -4.08,-11.13" fill="none" stroke="#fff" stroke-width="1.7"/></g><g transform="translate(292,112) rotate(-15)"><ellipse rx="15.5" ry="13.5" fill="url(#g_Cl1)" stroke="#861878" stroke-width="0.6"/><ellipse cx="-0.62" cy="-0.54" rx="13.95" ry="12.15" fill="none" stroke="#fff" stroke-width="1.7"/><path d="M13.95,0.00 Q-0.00,1.35 -13.95,-0.00" fill="none" stroke="#fff" stroke-width="1.7"/><path d="M-4.77,11.42 Q-3.74,-1.56 4.77,-11.42" fill="none" stroke="#fff" stroke-width="1.7"/></g><g transform="translate(314,147) rotate(-20)"><ellipse rx="18" ry="14" fill="url(#g_Cl2)" stroke="#861878" stroke-width="0.6"/><ellipse cx="-0.72" cy="-0.56" rx="16.20" ry="12.60" fill="none" stroke="#fff" stroke-width="1.7"/><path d="M16.14,-1.10 Q0.14,2.10 -16.14,1.10" fill="none" stroke="#fff" stroke-width="1.7"/><path d="M5.54,11.84 Q-3.80,1.78 -5.54,-11.84" fill="none" stroke="#fff" stroke-width="1.7"/></g><g transform="translate(179,283) rotate(10)"><ellipse rx="14" ry="12.5" fill="url(#g_Cl1A)" stroke="#861878" stroke-width="0.6"/><ellipse cx="-0.56" cy="-0.50" rx="12.60" ry="11.25" fill="none" stroke="#fff" stroke-width="1.7"/><path d="M12.55,0.98 Q-0.24,3.12 -12.55,-0.98" fill="none" stroke="#fff" stroke-width="1.7"/><path d="M-2.19,11.08 Q-3.68,-0.73 2.19,-11.08" fill="none" stroke="#fff" stroke-width="1.7"/></g><g transform="translate(200,327.5) rotate(20)"><ellipse rx="17.5" ry="13" fill="url(#g_Cl2A)" stroke="#861878" stroke-width="0.6"/><ellipse cx="-0.70" cy="-0.52" rx="15.75" ry="11.70" fill="none" stroke="#fff" stroke-width="1.7"/><path d="M15.51,2.03 Q-0.25,1.93 -15.51,-2.03" fill="none" stroke="#fff" stroke-width="1.7"/><path d="M5.39,10.99 Q-3.50,1.72 -5.39,-10.99" fill="none" stroke="#fff" stroke-width="1.7"/></g><g transform="translate(383,289) rotate(-10)"><ellipse rx="13" ry="16" fill="url(#g_Cl1B)" stroke="#861878" stroke-width="0.6"/><ellipse cx="-0.52" cy="-0.64" rx="11.70" ry="14.40" fill="none" stroke="#fff" stroke-width="1.7"/><path d="M11.52,2.50 Q-0.55,2.54 -11.52,-2.50" fill="none" stroke="#fff" stroke-width="1.7"/><path d="M-1.02,14.35 Q-2.59,-0.18 1.02,-14.35" fill="none" stroke="#fff" stroke-width="1.7"/></g><g transform="translate(412,330) rotate(0)"><ellipse rx="12" ry="19" fill="url(#g_Cl2B)" stroke="#861878" stroke-width="0.6"/><ellipse cx="-0.48" cy="-0.76" rx="10.80" ry="17.10" fill="none" stroke="#fff" stroke-width="1.7"/><path d="M10.80,0.00 Q-0.00,1.20 -10.80,-0.00" fill="none" stroke="#fff" stroke-width="1.7"/><path d="M0.00,17.10 Q-1.80,0.00 -0.00,-17.10" fill="none" stroke="#fff" stroke-width="1.7"/></g><g transform="translate(253,449.5) rotate(0)"><ellipse rx="20.5" ry="14.5" fill="url(#g_B1)" stroke="#343434" stroke-width="0.6"/><ellipse cx="-0.82" cy="-0.58" rx="18.45" ry="13.05" fill="none" stroke="#fff" stroke-width="1.7"/><path d="M8.66,11.52 Q-3.48,2.61 -8.66,-11.52" fill="none" stroke="#fff" stroke-width="1.7"/><path d="M17.34,-4.46 Q-1.27,-4.91 -17.34,4.46" fill="none" stroke="#fff" stroke-width="1.7"/></g><g transform="translate(330,452) rotate(0)"><ellipse rx="21" ry="14.5" fill="url(#g_B2)" stroke="#343434" stroke-width="0.6"/><ellipse cx="-0.84" cy="-0.58" rx="18.90" ry="13.05" fill="none" stroke="#fff" stroke-width="1.7"/><path d="M8.87,11.52 Q-3.45,2.65 -8.87,-11.52" fill="none" stroke="#fff" stroke-width="1.7"/><path d="M17.76,-4.46 Q-1.24,-4.92 -17.76,4.46" fill="none" stroke="#fff" stroke-width="1.7"/></g><g transform="translate(195,463) rotate(0)"><ellipse rx="21" ry="14" fill="url(#g_B3)" stroke="#343434" stroke-width="0.6"/><ellipse cx="-0.84" cy="-0.56" rx="18.90" ry="12.60" fill="none" stroke="#fff" stroke-width="1.7"/><path d="M8.87,11.13 Q-3.28,2.62 -8.87,-11.13" fill="none" stroke="#fff" stroke-width="1.7"/><path d="M17.76,-4.31 Q-1.16,-4.76 -17.76,4.31" fill="none" stroke="#fff" stroke-width="1.7"/></g><g transform="translate(382,471) rotate(0)"><ellipse rx="21" ry="14.5" fill="url(#g_B5)" stroke="#343434" stroke-width="0.6"/><ellipse cx="-0.84" cy="-0.58" rx="18.90" ry="13.05" fill="none" stroke="#fff" stroke-width="1.7"/><path d="M8.87,11.52 Q-3.45,2.65 -8.87,-11.52" fill="none" stroke="#fff" stroke-width="1.7"/><path d="M17.76,-4.46 Q-1.24,-4.92 -17.76,4.46" fill="none" stroke="#fff" stroke-width="1.7"/></g><g transform="translate(192,491) rotate(0)"><ellipse rx="22" ry="13" fill="url(#g_B4)" stroke="#343434" stroke-width="0.6"/><ellipse cx="-0.88" cy="-0.52" rx="19.80" ry="11.70" fill="none" stroke="#fff" stroke-width="1.7"/><path d="M9.30,10.33 Q-2.90,2.61 -9.30,-10.33" fill="none" stroke="#fff" stroke-width="1.7"/><path d="M18.61,-4.00 Q-0.96,-4.45 -18.61,4.00" fill="none" stroke="#fff" stroke-width="1.7"/></g><g transform="translate(380,498) rotate(0)"><ellipse rx="22.5" ry="14.5" fill="url(#g_B6)" stroke="#343434" stroke-width="0.6"/><ellipse cx="-0.90" cy="-0.58" rx="20.25" ry="13.05" fill="none" stroke="#fff" stroke-width="1.7"/><path d="M9.51,11.52 Q-3.36,2.77 -9.51,-11.52" fill="none" stroke="#fff" stroke-width="1.7"/><path d="M19.03,-4.46 Q-1.16,-4.94 -19.03,4.46" fill="none" stroke="#fff" stroke-width="1.7"/></g><g transform="translate(244,511) rotate(0)"><ellipse rx="23.5" ry="14" fill="url(#g_B7)" stroke="#343434" stroke-width="0.6"/><ellipse cx="-0.94" cy="-0.56" rx="21.15" ry="12.60" fill="none" stroke="#fff" stroke-width="1.7"/><path d="M9.93,11.13 Q-3.13,2.80 -9.93,-11.13" fill="none" stroke="#fff" stroke-width="1.7"/><path d="M19.87,-4.31 Q-1.04,-4.79 -19.87,4.31" fill="none" stroke="#fff" stroke-width="1.7"/></g><g transform="translate(324,513) rotate(0)"><ellipse rx="23" ry="14.5" fill="url(#g_B8)" stroke="#343434" stroke-width="0.6"/><ellipse cx="-0.92" cy="-0.58" rx="20.70" ry="13.05" fill="none" stroke="#fff" stroke-width="1.7"/><path d="M9.72,11.52 Q-3.33,2.80 -9.72,-11.52" fill="none" stroke="#fff" stroke-width="1.7"/><path d="M19.45,-4.46 Q-1.14,-4.95 -19.45,4.46" fill="none" stroke="#fff" stroke-width="1.7"/></g><g transform="translate(837.5,110) rotate(10)"><ellipse rx="17" ry="12.5" fill="url(#g_Ctl)" stroke="#363636" stroke-width="0.6"/><ellipse cx="-0.68" cy="-0.50" rx="15.30" ry="11.25" fill="none" stroke="#fff" stroke-width="1.7"/><path d="M13.25,5.62 Q-1.47,3.45 -13.25,-5.62" fill="none" stroke="#fff" stroke-width="1.7"/><path d="M7.65,-9.74 Q-2.95,-2.32 -7.65,9.74" fill="none" stroke="#fff" stroke-width="1.7"/></g><g transform="translate(902,123.5) rotate(10)"><ellipse rx="18" ry="13.4" fill="url(#g_Ctr)" stroke="#363636" stroke-width="0.6"/><ellipse cx="-0.72" cy="-0.54" rx="16.20" ry="12.06" fill="none" stroke="#fff" stroke-width="1.7"/><path d="M14.03,6.03 Q-1.59,3.69 -14.03,-6.03" fill="none" stroke="#fff" stroke-width="1.7"/><path d="M8.10,-10.44 Q-3.18,-2.46 -8.10,10.44" fill="none" stroke="#fff" stroke-width="1.7"/></g><g transform="translate(787.5,165) rotate(0)"><ellipse rx="17.5" ry="11.5" fill="url(#g_Co2b)" stroke="#363636" stroke-width="0.6"/><ellipse cx="-0.70" cy="-0.46" rx="15.75" ry="10.35" fill="none" stroke="#fff" stroke-width="1.7"/><path d="M13.64,5.17 Q-1.22,3.23 -13.64,-5.17" fill="none" stroke="#fff" stroke-width="1.7"/><path d="M7.88,-8.96 Q-2.59,-2.28 -7.88,8.96" fill="none" stroke="#fff" stroke-width="1.7"/></g><g transform="translate(843,171) rotate(0)"><ellipse rx="14" ry="12" fill="url(#g_O2B)" stroke="#7a0000" stroke-width="0.6"/><ellipse cx="-0.56" cy="-0.48" rx="12.60" ry="10.80" fill="none" stroke="#fff" stroke-width="1.7"/><path d="M9.65,6.94 Q-2.10,2.92 -9.65,-6.94" fill="none" stroke="#fff" stroke-width="1.7"/><path d="M8.10,-8.27 Q-2.57,-2.52 -8.10,8.27" fill="none" stroke="#fff" stroke-width="1.7"/></g><g transform="translate(867.5,176) rotate(20)"><ellipse rx="15" ry="14" fill="url(#g_O1B)" stroke="#7a0000" stroke-width="0.6"/><ellipse cx="-0.60" cy="-0.56" rx="13.50" ry="12.60" fill="none" stroke="#fff" stroke-width="1.7"/><path d="M10.34,8.10 Q-2.59,3.31 -10.34,-8.10" fill="none" stroke="#fff" stroke-width="1.7"/><path d="M8.68,-9.65 Q-3.12,-2.81 -8.68,9.65" fill="none" stroke="#fff" stroke-width="1.7"/></g><g transform="translate(921,194) rotate(20)"><ellipse rx="16" ry="14" fill="url(#g_Co1b)" stroke="#363636" stroke-width="0.6"/><ellipse cx="-0.64" cy="-0.56" rx="14.40" ry="12.60" fill="none" stroke="#fff" stroke-width="1.7"/><path d="M12.47,6.30 Q-1.89,3.75 -12.47,-6.30" fill="none" stroke="#fff" stroke-width="1.7"/><path d="M7.20,-10.91 Q-3.51,-2.31 -7.20,10.91" fill="none" stroke="#fff" stroke-width="1.7"/></g><g transform="translate(777.5,229) rotate(0)"><ellipse rx="17.5" ry="12.5" fill="url(#g_Cn2)" stroke="#363636" stroke-width="0.6"/><ellipse cx="-0.70" cy="-0.50" rx="15.75" ry="11.25" fill="none" stroke="#fff" stroke-width="1.7"/><path d="M13.64,5.62 Q-1.43,3.47 -13.64,-5.62" fill="none" stroke="#fff" stroke-width="1.7"/><path d="M7.88,-9.74 Q-2.92,-2.36 -7.88,9.74" fill="none" stroke="#fff" stroke-width="1.7"/></g><g transform="translate(882.5,255) rotate(0)"><ellipse rx="17.5" ry="14.5" fill="url(#g_Cn1)" stroke="#363636" stroke-width="0.6"/><ellipse cx="-0.70" cy="-0.58" rx="15.75" ry="13.05" fill="none" stroke="#fff" stroke-width="1.7"/><path d="M13.64,6.52 Q-1.88,3.92 -13.64,-6.52" fill="none" stroke="#fff" stroke-width="1.7"/><path d="M7.88,-11.30 Q-3.57,-2.49 -7.88,11.30" fill="none" stroke="#fff" stroke-width="1.7"/></g><g transform="translate(755,296) rotate(0)"><ellipse rx="15" ry="13.5" fill="url(#g_N2)" stroke="#5858a8" stroke-width="0.6"/><ellipse cx="-0.60" cy="-0.54" rx="13.50" ry="12.15" fill="none" stroke="#fff" stroke-width="1.7"/><path d="M13.29,2.11 Q-0.63,4.00 -13.29,-2.11" fill="none" stroke="#fff" stroke-width="1.7"/><path d="M2.34,11.97 Q-3.97,0.78 -2.34,-11.97" fill="none" stroke="#fff" stroke-width="1.7"/></g><line x1="755" y1="296" x2="812.5" y2="314.5" stroke="#9d8632" stroke-width="5.6" stroke-linecap="butt"/><line x1="755" y1="296" x2="812.5" y2="314.5" stroke="#ddc15b" stroke-width="3.00" stroke-linecap="butt"/><g transform="translate(812.5,314.5) rotate(0)"><ellipse rx="14.5" ry="13" fill="url(#g_Cs1)" stroke="#5a105a" stroke-width="0.6"/><ellipse cx="-0.58" cy="-0.52" rx="13.05" ry="11.70" fill="none" stroke="#fff" stroke-width="1.7"/><path d="M10.00,7.52 Q-2.34,3.12 -10.00,-7.52" fill="none" stroke="#fff" stroke-width="1.7"/><path d="M8.39,-8.96 Q-2.85,-2.66 -8.39,8.96" fill="none" stroke="#fff" stroke-width="1.7"/></g><g transform="translate(873,333) rotate(0)"><ellipse rx="16" ry="14" fill="url(#g_N1)" stroke="#5858a8" stroke-width="0.6"/><ellipse cx="-0.64" cy="-0.56" rx="14.40" ry="12.60" fill="none" stroke="#fff" stroke-width="1.7"/><path d="M14.18,2.19 Q-0.64,4.15 -14.18,-2.19" fill="none" stroke="#fff" stroke-width="1.7"/><path d="M2.50,12.41 Q-4.12,0.83 -2.50,-12.41" fill="none" stroke="#fff" stroke-width="1.7"/></g><line x1="812.5" y1="314.5" x2="873" y2="333" stroke="#9d8632" stroke-width="5.6" stroke-linecap="butt"/><line x1="812.5" y1="314.5" x2="873" y2="333" stroke="#ddc15b" stroke-width="3.00" stroke-linecap="butt"/><g transform="translate(676,299) rotate(0)"><ellipse rx="13.5" ry="14" fill="url(#g_Co2)" stroke="#363636" stroke-width="0.6"/><ellipse cx="-0.54" cy="-0.56" rx="12.15" ry="12.60" fill="none" stroke="#fff" stroke-width="1.7"/><path d="M10.52,6.30 Q-2.08,3.47 -10.52,-6.30" fill="none" stroke="#fff" stroke-width="1.7"/><path d="M6.08,-10.91 Q-3.54,-1.97 -6.08,10.91" fill="none" stroke="#fff" stroke-width="1.7"/></g><g transform="translate(645,321) rotate(0)"><ellipse rx="12.5" ry="15" fill="url(#g_O2)" stroke="#7a0000" stroke-width="0.6"/><ellipse cx="-0.50" cy="-0.60" rx="11.25" ry="13.50" fill="none" stroke="#fff" stroke-width="1.7"/><path d="M8.62,8.68 Q-2.66,2.64 -8.62,-8.68" fill="none" stroke="#fff" stroke-width="1.7"/><path d="M7.23,-10.34 Q-3.07,-2.15 -7.23,10.34" fill="none" stroke="#fff" stroke-width="1.7"/></g><g transform="translate(640,347.5) rotate(0)"><ellipse rx="11.5" ry="14" fill="url(#g_Cbk)" stroke="#363636" stroke-width="0.6"/><ellipse cx="-0.46" cy="-0.56" rx="10.35" ry="12.60" fill="none" stroke="#fff" stroke-width="1.7"/><path d="M8.96,6.30 Q-1.98,2.82 -8.96,-6.30" fill="none" stroke="#fff" stroke-width="1.7"/><path d="M5.18,-10.91 Q-3.12,-1.48 -5.18,10.91" fill="none" stroke="#fff" stroke-width="1.7"/></g><g transform="translate(628,352.5) rotate(0)"><ellipse rx="14" ry="15.5" fill="url(#g_Cfr)" stroke="#363636" stroke-width="0.6"/><ellipse cx="-0.56" cy="-0.62" rx="12.60" ry="13.95" fill="none" stroke="#fff" stroke-width="1.7"/><path d="M10.91,6.97 Q-2.26,3.54 -10.91,-6.97" fill="none" stroke="#fff" stroke-width="1.7"/><path d="M6.30,-12.08 Q-3.72,-1.94 -6.30,12.08" fill="none" stroke="#fff" stroke-width="1.7"/></g><g transform="translate(615,383) rotate(0)"><ellipse rx="13" ry="14.5" fill="url(#g_Cbl)" stroke="#363636" stroke-width="0.6"/><ellipse cx="-0.52" cy="-0.58" rx="11.70" ry="13.05" fill="none" stroke="#fff" stroke-width="1.7"/><path d="M10.13,6.52 Q-2.11,3.28 -10.13,-6.52" fill="none" stroke="#fff" stroke-width="1.7"/><path d="M5.85,-11.30 Q-3.46,-1.79 -5.85,11.30" fill="none" stroke="#fff" stroke-width="1.7"/></g><g transform="translate(706.5,376) rotate(0)"><ellipse rx="14" ry="13.5" fill="url(#g_O1)" stroke="#7a0000" stroke-width="0.6"/><ellipse cx="-0.56" cy="-0.54" rx="12.60" ry="12.15" fill="none" stroke="#fff" stroke-width="1.7"/><path d="M9.65,7.81 Q-2.55,3.15 -9.65,-7.81" fill="none" stroke="#fff" stroke-width="1.7"/><path d="M8.10,-9.31 Q-3.06,-2.66 -8.10,9.31" fill="none" stroke="#fff" stroke-width="1.7"/></g><g transform="translate(731,357) rotate(0)"><ellipse rx="15.5" ry="15.5" fill="url(#g_Cc)" stroke="#363636" stroke-width="0.6"/><ellipse cx="-0.62" cy="-0.62" rx="13.95" ry="13.95" fill="none" stroke="#fff" stroke-width="1.7"/><path d="M12.08,6.97 Q-2.32,4.03 -12.08,-6.97" fill="none" stroke="#fff" stroke-width="1.7"/><path d="M6.98,-12.08 Q-4.03,-2.33 -6.98,12.08" fill="none" stroke="#fff" stroke-width="1.7"/></g><g transform="translate(781,353) rotate(0)"><ellipse rx="13.5" ry="15.5" fill="url(#g_Crc)" stroke="#363636" stroke-width="0.6"/><ellipse cx="-0.54" cy="-0.62" rx="12.15" ry="13.95" fill="none" stroke="#fff" stroke-width="1.7"/><path d="M10.52,6.97 Q-2.24,3.38 -10.52,-6.97" fill="none" stroke="#fff" stroke-width="1.7"/><path d="M6.08,-12.08 Q-3.62,-1.82 -6.08,12.08" fill="none" stroke="#fff" stroke-width="1.7"/></g><g transform="translate(819,380) rotate(0)"><ellipse rx="16" ry="16" fill="url(#g_C819)" stroke="#363636" stroke-width="0.6"/><ellipse cx="-0.64" cy="-0.64" rx="14.40" ry="14.40" fill="none" stroke="#fff" stroke-width="1.7"/><path d="M12.47,7.20 Q-2.40,4.16 -12.47,-7.20" fill="none" stroke="#fff" stroke-width="1.7"/><path d="M7.20,-12.47 Q-4.16,-2.40 -7.20,12.47" fill="none" stroke="#fff" stroke-width="1.7"/></g><g transform="translate(859,385) rotate(0)"><ellipse rx="11.5" ry="13.5" fill="url(#g_C857)" stroke="#363636" stroke-width="0.6"/><ellipse cx="-0.46" cy="-0.54" rx="10.35" ry="12.15" fill="none" stroke="#fff" stroke-width="1.7"/><path d="M8.96,6.07 Q-1.94,2.86 -8.96,-6.07" fill="none" stroke="#fff" stroke-width="1.7"/><path d="M5.18,-10.52 Q-3.10,-1.52 -5.18,10.52" fill="none" stroke="#fff" stroke-width="1.7"/></g><g transform="translate(950.5,371) rotate(0)"><ellipse rx="15" ry="15" fill="url(#g_C951)" stroke="#363636" stroke-width="0.6"/><ellipse cx="-0.60" cy="-0.60" rx="13.50" ry="13.50" fill="none" stroke="#fff" stroke-width="1.7"/><path d="M11.69,6.75 Q-2.25,3.90 -11.69,-6.75" fill="none" stroke="#fff" stroke-width="1.7"/><path d="M6.75,-11.69 Q-3.90,-2.25 -6.75,11.69" fill="none" stroke="#fff" stroke-width="1.7"/></g><g transform="translate(862,423) rotate(0)"><ellipse rx="14" ry="14.5" fill="url(#g_O2A)" stroke="#7a0000" stroke-width="0.6"/><ellipse cx="-0.56" cy="-0.58" rx="12.60" ry="13.05" fill="none" stroke="#fff" stroke-width="1.7"/><path d="M9.65,8.39 Q-2.76,3.17 -9.65,-8.39" fill="none" stroke="#fff" stroke-width="1.7"/><path d="M8.10,-10.00 Q-3.26,-2.64 -8.10,10.00" fill="none" stroke="#fff" stroke-width="1.7"/></g><g transform="translate(943,415) rotate(0)"><ellipse rx="13.5" ry="12" fill="url(#g_O1A)" stroke="#7a0000" stroke-width="0.6"/><ellipse cx="-0.54" cy="-0.48" rx="12.15" ry="10.80" fill="none" stroke="#fff" stroke-width="1.7"/><path d="M9.31,6.94 Q-2.15,2.89 -9.31,-6.94" fill="none" stroke="#fff" stroke-width="1.7"/><path d="M7.81,-8.27 Q-2.62,-2.47 -7.81,8.27" fill="none" stroke="#fff" stroke-width="1.7"/></g><line x1="951" y1="385" x2="952" y2="442" stroke="#a48048" stroke-width="5.6" stroke-linecap="butt"/><line x1="951" y1="385" x2="952" y2="442" stroke="#d6ae6c" stroke-width="3.00" stroke-linecap="butt"/><g transform="translate(934,437) rotate(0)"><ellipse rx="12" ry="12" fill="url(#g_Cbk2)" stroke="#363636" stroke-width="0.6"/><ellipse cx="-0.48" cy="-0.48" rx="10.80" ry="10.80" fill="none" stroke="#fff" stroke-width="1.5"/><path d="M9.35,5.40 Q-1.80,3.12 -9.35,-5.40" fill="none" stroke="#fff" stroke-width="1.5"/><path d="M5.40,-9.35 Q-3.12,-1.80 -5.40,9.35" fill="none" stroke="#fff" stroke-width="1.5"/></g><g transform="translate(952,442) rotate(0)"><ellipse rx="15" ry="14" fill="url(#g_Cfr2)" stroke="#363636" stroke-width="0.6"/><ellipse cx="-0.60" cy="-0.56" rx="13.50" ry="12.60" fill="none" stroke="#fff" stroke-width="1.7"/><path d="M11.69,6.30 Q-1.99,3.70 -11.69,-6.30" fill="none" stroke="#fff" stroke-width="1.7"/><path d="M6.75,-10.91 Q-3.57,-2.21 -6.75,10.91" fill="none" stroke="#fff" stroke-width="1.7"/></g><g transform="translate(943,477) rotate(0)"><ellipse rx="15" ry="15.5" fill="url(#g_Cbt)" stroke="#363636" stroke-width="0.6"/><ellipse cx="-0.60" cy="-0.62" rx="13.50" ry="13.95" fill="none" stroke="#fff" stroke-width="1.7"/><path d="M11.69,6.97 Q-2.31,3.86 -11.69,-6.97" fill="none" stroke="#fff" stroke-width="1.7"/><path d="M6.75,-12.08 Q-3.93,-2.19 -6.75,12.08" fill="none" stroke="#fff" stroke-width="1.7"/></g><text transform="translate(276.80,97) scale(0.985,1)">Cl1</text><text transform="translate(330.66,133) scale(1.102,1)">Cl2</text><text transform="translate(113.92,201.3) scale(0.954,1)">Th1A</text><text transform="translate(431.45,206) scale(0.898,1)">Th1</text><text transform="translate(112.79,309) scale(0.999,1)">Cl1A</text><text transform="translate(149.71,364) scale(1.058,1)">Cl2A</text><text transform="translate(415.78,295) scale(1.002,1)">Cl1B</text><text transform="translate(419.70,364) scale(1.071,1)">Cl2B</text><text transform="translate(299.44,407.5) scale(0.929,1)">Th1B</text><text transform="translate(785.72,152) scale(1.050,1)">O2B</text><text transform="translate(882.86,176) scale(0.942,1)">O1B</text><text transform="translate(715.45,279) scale(1.127,1)">N2</text><text transform="translate(614.61,302.5) scale(1.142,1)">O2</text><text transform="translate(827.85,312.5) scale(0.946,1)">Cs1</text><text transform="translate(889.27,332) scale(0.948,1)">N1</text><text transform="translate(691.38,411.5) scale(0.924,1)">O1</text><text transform="translate(961.82,425) scale(0.971,1)">O1A</text><text transform="translate(831.22,461) scale(1.055,1)">O2A</text>
</svg></body></html>
